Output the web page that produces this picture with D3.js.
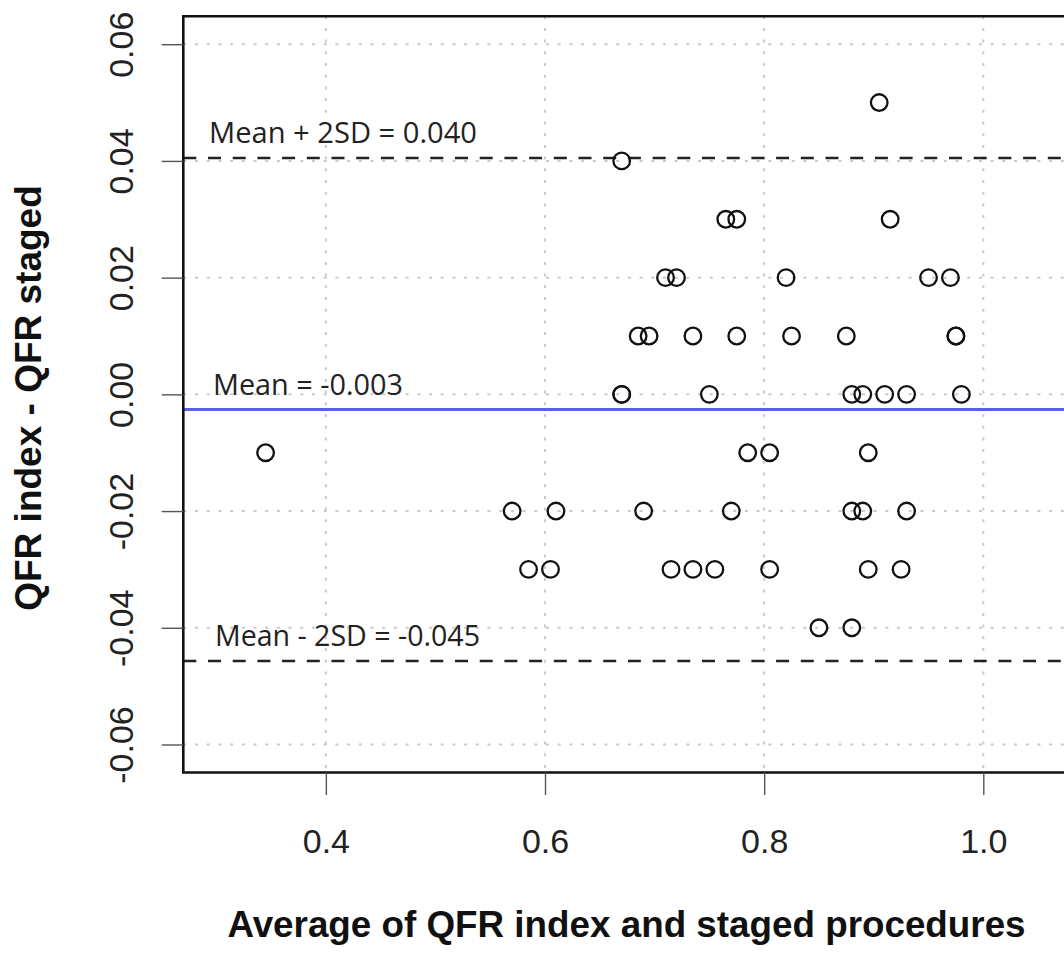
<!DOCTYPE html>
<html><head><meta charset="utf-8">
<script src="https://cdn.jsdelivr.net/npm/d3@7/dist/d3.min.js"></script>
<style>body{margin:0;background:#fff}svg{display:block}</style></head>
<body><svg id="c" width="1064" height="953"></svg>
<script>
// ---- data ----
const xTicks = [0.4, 0.6, 0.8, 1.0];
const xTickLabels = ["0.4", "0.6", "0.8", "1.0"];
const yTicks = [-0.06, -0.04, -0.02, 0.00, 0.02, 0.04, 0.06];
const yTickLabels = ["-0.06", "-0.04", "-0.02", "0.00", "0.02", "0.04", "0.06"];
const avgValues = [
  0.905,
  0.67,
  0.765, 0.775, 0.915,
  0.71, 0.72, 0.82, 0.95, 0.97,
  0.685, 0.695, 0.735, 0.775, 0.825, 0.875, 0.975, 0.975,
  0.67, 0.67, 0.75, 0.88, 0.89, 0.91, 0.93, 0.98,
  0.345, 0.785, 0.805, 0.895,
  0.57, 0.61, 0.69, 0.77, 0.88, 0.89, 0.93,
  0.585, 0.605, 0.715, 0.735, 0.755, 0.805, 0.895, 0.925,
  0.85, 0.88
];
const diffValues = [
  0.05,
  0.04,
  0.03, 0.03, 0.03,
  0.02, 0.02, 0.02, 0.02, 0.02,
  0.01, 0.01, 0.01, 0.01, 0.01, 0.01, 0.01, 0.01,
  0.00, 0.00, 0.00, 0.00, 0.00, 0.00, 0.00, 0.00,
  -0.01, -0.01, -0.01, -0.01,
  -0.02, -0.02, -0.02, -0.02, -0.02, -0.02, -0.02,
  -0.03, -0.03, -0.03, -0.03, -0.03, -0.03, -0.03, -0.03,
  -0.04, -0.04
];
const limitValues = [0.0405, -0.0457];   // mean +/- 2SD
const meanValue = -0.0026;
const refLabels = ["Mean + 2SD = 0.040", "Mean = -0.003", "Mean - 2SD = -0.045"];
const refLabelValues = [0.0405, -0.0026, -0.0457];
const xTitle = "Average of QFR index and staged procedures";
const yTitle = "QFR index - QFR staged";

// ---- layout ----
const W = 1064, H = 953;
const plotL = 183.3, plotT = 16.2, plotB = 772.5, plotR = 1090;
const svg = d3.select("#c");
svg.append("rect").attr("width", W).attr("height", H).attr("fill", "#fff");

const x = d3.scaleLinear().domain([0.2699, 1.0]).range([plotL, 983.3]);
const y = d3.scaleLinear().domain([-0.0648, 0.0648]).range([plotB, plotT]);

const g = svg.append("g");

// grid (dotted light gray)
g.selectAll("line.vg").data(xTicks).join("line")
  .attr("x1", d => x(d)).attr("x2", d => x(d))
  .attr("y1", plotT).attr("y2", plotB)
  .attr("stroke", "#cacaca").attr("stroke-width", 2).attr("stroke-dasharray", "3 8.7");
g.selectAll("line.hg").data(yTicks).join("line")
  .attr("x1", plotL).attr("x2", plotR)
  .attr("y1", d => y(d)).attr("y2", d => y(d))
  .attr("stroke", "#cacaca").attr("stroke-width", 2).attr("stroke-dasharray", "3 8.7");

// limits of agreement (dashed)
g.selectAll("line.loa").data(limitValues).join("line")
  .attr("x1", plotL).attr("x2", plotR)
  .attr("y1", d => y(d)).attr("y2", d => y(d))
  .attr("stroke", "#222").attr("stroke-width", 2.4).attr("stroke-dasharray", "13 11.7");

// mean line (blue)
g.append("line")
  .attr("x1", plotL).attr("x2", plotR)
  .attr("y1", y(meanValue)).attr("y2", y(meanValue))
  .attr("stroke", "#5561e6").attr("stroke-width", 3);

// labels
const labelX = [209, 213, 215];
const labelLen = [268, 190, 265];
g.selectAll("text.ref").data(refLabels).join("text")
  .attr("x", (d, i) => labelX[i])
  .attr("y", (d, i) => y(refLabelValues[i]) - 15)
  .attr("font-family", "'Open Sans', 'Noto Sans', sans-serif")
  .attr("font-size", 30)
  .attr("textLength", (d, i) => labelLen[i])
  .attr("lengthAdjust", "spacingAndGlyphs")
  .attr("fill", "#222")
  .text(d => d);

// points
g.selectAll("circle.pt").data(avgValues.map((v, i) => [v, diffValues[i]])).join("circle")
  .attr("cx", d => x(d[0])).attr("cy", d => y(d[1])).attr("r", 8.3)
  .attr("fill", "none").attr("stroke", "#111").attr("stroke-width", 2.3);

// box
g.append("path")
  .attr("d", `M${plotR},${plotT}H${plotL}V${plotB}H${plotR}`)
  .attr("fill", "none").attr("stroke", "#111").attr("stroke-width", 2.6);

// axes
const xAxis = d3.axisBottom(x).tickValues(xTicks).tickFormat((d, i) => xTickLabels[i])
  .tickSize(22.5).tickPadding(34);
const xg = svg.append("g").attr("transform", `translate(0,${plotB})`).call(xAxis);
xg.select(".domain").remove();
xg.selectAll(".tick line").attr("stroke", "#555").attr("stroke-width", 1.4);
xg.selectAll(".tick text").attr("font-family", "'Liberation Sans', Arial, sans-serif")
  .attr("font-size", 34).attr("fill", "#222");

const yAxis = d3.axisLeft(y).tickValues(yTicks).tickFormat((d, i) => yTickLabels[i])
  .tickSize(21.6).tickPadding(0);
const yg = svg.append("g").attr("transform", `translate(${plotL},0)`).call(yAxis);
yg.select(".domain").remove();
yg.selectAll(".tick line").attr("stroke", "#555").attr("stroke-width", 1.4);
yg.selectAll(".tick text")
  .attr("x", null).attr("dy", null)
  .attr("text-anchor", "middle")
  .attr("transform", `translate(${133 - plotL},0) rotate(-90)`)
  .attr("font-family", "'Liberation Sans', Arial, sans-serif")
  .attr("font-size", 34).attr("fill", "#222");

// titles
svg.append("text").attr("x", 626.5).attr("y", 937)
  .attr("text-anchor", "middle")
  .attr("font-family", "'Liberation Sans', Arial, sans-serif")
  .attr("font-weight", "bold").attr("font-size", 36.8).attr("fill", "#111")
  .text(xTitle);
svg.append("text")
  .attr("transform", `translate(41,398) rotate(-90)`)
  .attr("text-anchor", "middle")
  .attr("font-family", "'Liberation Sans', Arial, sans-serif")
  .attr("font-weight", "bold").attr("font-size", 37).attr("fill", "#111")
  .text(yTitle);
</script>
</body></html>
